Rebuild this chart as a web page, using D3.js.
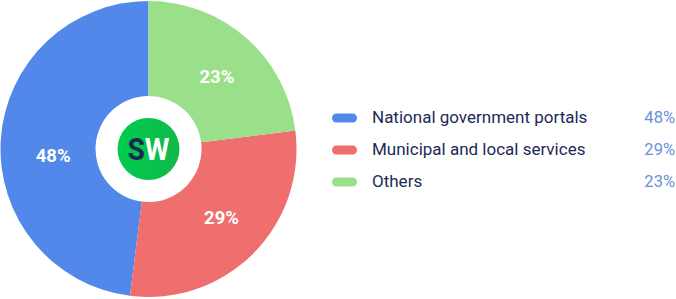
<!DOCTYPE html>
<html>
<head>
<meta charset="utf-8">
<script src="https://cdn.jsdelivr.net/npm/d3@7"></script>
<style>
  body { margin: 0; background: #fff; }
  svg { display: block; font-family: Roboto, "Noto Sans", sans-serif; }
</style>
</head>
<body>
<svg id="chart" width="676" height="299"></svg>
<script>
const categories = ['National government portals', 'Municipal and local services', 'Others'];
const shares = [48, 29, 23];
const colors = ['#5288E9', '#EF6E6E', '#9AE08B'];

const svg = d3.select('#chart');
const cx = 148.5, cy = 149;
const outerR = 148, innerR = 53;

// slices run counter-clockwise from 12 o'clock
const pie = d3.pie().sort(null).startAngle(0).endAngle(-2 * Math.PI);
const arc = d3.arc().innerRadius(innerR).outerRadius(outerR);
const arcs = pie(shares);

// the labels in the original sit a little off the centroids
const labelNudge = [[5, 13], [2, -3], [2, 3]];

const g = svg.append('g').attr('transform', 'translate(' + cx + ',' + cy + ')');

g.selectAll('path.slice')
    .data(arcs)
    .join('path')
    .attr('class', 'slice')
    .attr('fill', (d, i) => colors[i])
    .attr('d', arc);

g.selectAll('text.val')
    .data(arcs)
    .join('text')
    .attr('class', 'val')
    .attr('transform', (d, i) => {
      const c = arc.centroid(d);
      return 'translate(' + (c[0] + labelNudge[i][0]) + ',' + (c[1] + labelNudge[i][1]) + ')';
    })
    .attr('text-anchor', 'middle')
    .attr('dy', '0.36em')
    .attr('fill', '#fff')
    .attr('font-size', 18.5)
    .attr('font-weight', 700)
    .text(d => d.data + '%');

// logo
const grad = svg.append('defs').append('linearGradient')
    .attr('id', 'logoGrad').attr('x1', 0).attr('x2', 1).attr('y1', 0).attr('y2', 0);
grad.append('stop').attr('offset', '0%').attr('stop-color', '#00CC4E');
grad.append('stop').attr('offset', '100%').attr('stop-color', '#10B84A');

g.append('circle').attr('r', 31).attr('fill', 'url(#logoGrad)');
const logo = g.append('text')
    .attr('x', -21)
    .attr('y', 11)
    .attr('font-size', 31)
    .attr('font-weight', 700)
    .attr('textLength', 42)
    .attr('lengthAdjust', 'spacingAndGlyphs');
logo.append('tspan').attr('fill', '#1B2656').text('S');
logo.append('tspan').attr('fill', '#fff').text('W');

// legend
const legendY = d3.scalePoint().domain(categories).range([117.5, 181.5]);

const rows = svg.selectAll('g.row')
    .data(categories)
    .join('g')
    .attr('class', 'row')
    .attr('transform', d => 'translate(0,' + legendY(d) + ')');

rows.append('rect')
    .attr('x', 332).attr('y', -4)
    .attr('width', 25).attr('height', 9)
    .attr('rx', 4.5)
    .attr('fill', (d, i) => colors[i]);

rows.append('text')
    .attr('x', 372)
    .attr('dy', '0.33em')
    .attr('font-size', 17)
    .attr('fill', '#1B2B57')
    .text(d => d);

rows.append('text')
    .attr('x', 675)
    .attr('dy', '0.33em')
    .attr('text-anchor', 'end')
    .attr('font-size', 16.5)
    .attr('fill', '#6C8FD9')
    .text((d, i) => shares[i] + '%');
</script>
</body>
</html>
